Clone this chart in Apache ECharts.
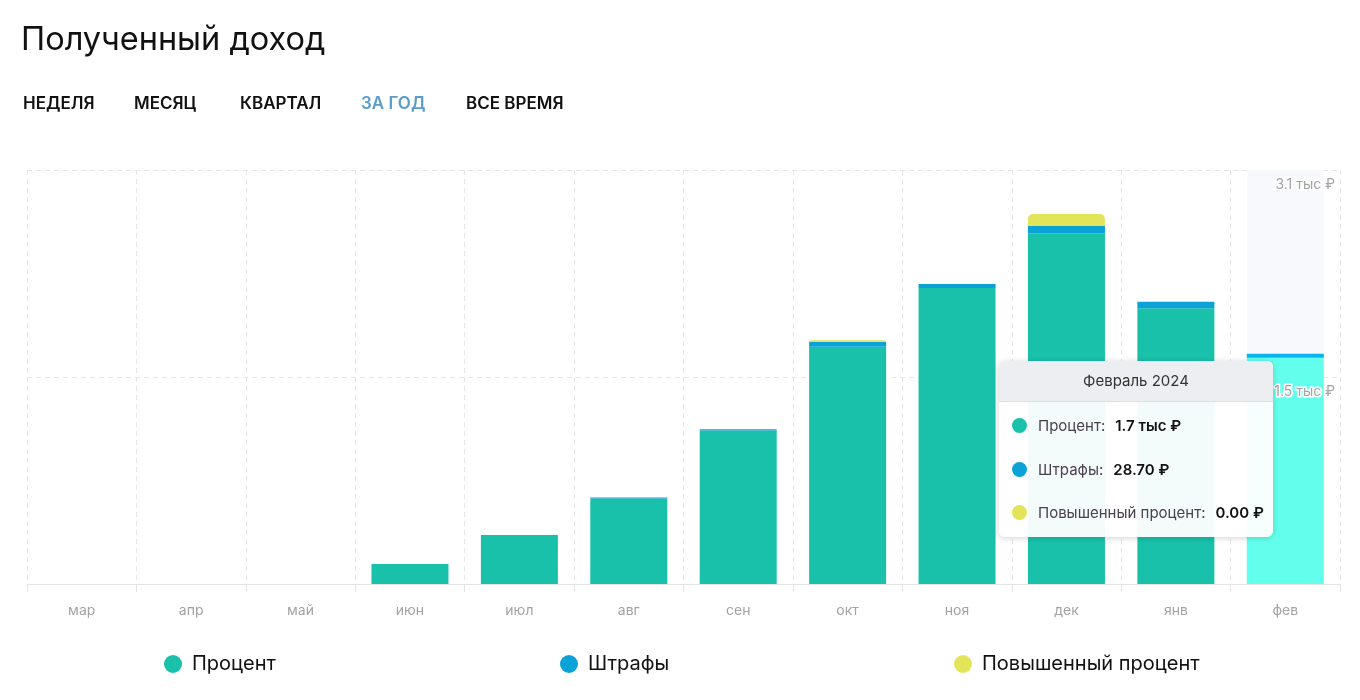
<!DOCTYPE html>
<html>
<head>
<meta charset="utf-8">
<style>
  html, body { margin: 0; padding: 0; background: #ffffff; }
  #chart { width: 1360px; height: 700px; }
</style>
<script src="https://cdn.jsdelivr.net/npm/echarts@6/dist/echarts.min.js"></script>
</head>
<body>
<div id="chart"></div>
<script>
// ---- data ----
const titleText = 'Полученный доход';
const tabs = ['НЕДЕЛЯ', 'МЕСЯЦ', 'КВАРТАЛ', 'ЗА ГОД', 'ВСЕ ВРЕМЯ'];
const activeTab = 3;
const categories = ['мар', 'апр', 'май', 'июн', 'июл', 'авг', 'сен', 'окт', 'ноя', 'дек', 'янв', 'фев'];
const monthTitles = ['Март 2023', 'Апрель 2023', 'Май 2023', 'Июнь 2023', 'Июль 2023', 'Август 2023',
  'Сентябрь 2023', 'Октябрь 2023', 'Ноябрь 2023', 'Декабрь 2023', 'Январь 2024', 'Февраль 2024'];
const seriesNames = ['Процент', 'Штрафы', 'Повышенный процент'];
const percentValues = [0, 0, 0, 150, 367, 640, 1150, 1777, 2216, 2626, 2064, 1695];
const fineValues = [0, 0, 0, 0, 0, 8, 8, 37, 30, 55, 50, 28.7];
const bonusValues = [0, 0, 0, 0, 0, 0, 0, 12, 0, 90, 0, 0];
const yMax = 3100;
const yInterval = 1550;
const yTickLabels = ['', '1.5 тыс ₽', '3.1 тыс ₽'];
const activeIndex = 11;

// ---- style ----
const colors = ['#19c1ab', '#0ba2d7', '#e2e55a'];
const activeColor = '#5af0d8';
const font = 'Inter, Roboto, "Noto Sans", sans-serif';
const tabX = [23, 134, 240, 361, 466];
const legendLeft = [164, 560, 954];

function fmtRub(v) {
  if (v >= 1000) return (Math.round(v / 100) / 10).toFixed(1) + ' тыс ₽';
  return v.toFixed(2) + ' ₽';
}

const chart = echarts.init(document.getElementById('chart'), null, { renderer: 'canvas' });

const barWidth = 77;
const percentData = percentValues.map((v, i) => i === activeIndex ? { value: v, itemStyle: { color: activeColor } } : v);
const bgData = categories.map((c, i) => i === activeIndex ? yMax : null);

const option = {
  animation: false,
  title: {
    text: titleText,
    left: 21, top: 24,
    padding: 0,
    textStyle: { fontFamily: font, fontSize: 32.5, fontWeight: 'normal', color: '#111' }
  },
  graphic: tabs.map((t, i) => ({
    type: 'text',
    x: tabX[i], y: 104,
    style: {
      text: t,
      fill: i === activeTab ? '#5b9dc9' : '#111',
      font: '600 17px ' + font,
      textVerticalAlign: 'middle'
    }
  })),
  legend: seriesNames.map((n, i) => ({
    data: [n],
    left: legendLeft[i], top: 654,
    padding: 0,
    icon: 'circle', itemWidth: 18, itemHeight: 18, itemGap: 10,
    textStyle: { fontFamily: font, fontSize: 20, color: '#111', padding: [0, 0, 0, 5] },
    selectedMode: false
  })),
  grid: { left: 27, right: 20, top: 170, bottom: 116 },
  tooltip: {
    trigger: 'axis',
    axisPointer: { type: 'none' },
    alwaysShowContent: true,
    transitionDuration: 0,
    padding: 0,
    borderWidth: 0,
    backgroundColor: 'rgba(255,255,255,0.95)',
    extraCssText: 'border-radius:6px;box-shadow:0 1px 6px rgba(0,0,0,0.18);overflow:hidden;',
    position: function () { return [999, 361]; },
    formatter: function (params) {
      const idx = params[0].dataIndex;
      const vals = [percentValues[idx], fineValues[idx], bonusValues[idx]];
      let html = '<div style="width:274px;font-family:' + font.replace(/"/g, "'") + ';">';
      html += '<div style="background:#eceef1;border-bottom:1px solid #dcdfe3;height:40px;line-height:40px;text-align:center;font-size:15px;color:#333;">' + monthTitles[idx] + '</div>';
      html += '<div style="padding:2px 0 2px 0;">';
      seriesNames.forEach((n, i) => {
        html += '<div style="height:43.5px;display:flex;align-items:center;padding-left:13px;">' +
          '<span style="display:inline-block;width:15px;height:15px;border-radius:50%;background:' + colors[i] + ';"></span>' +
          '<span style="margin-left:11px;font-size:15px;color:#4a4050;">' + n + ':</span>' +
          '<span style="margin-left:10px;font-size:15px;font-weight:600;color:#111;">' + fmtRub(vals[i]) + '</span>' +
          '</div>';
      });
      html += '</div></div>';
      return html;
    }
  },
  xAxis: {
    type: 'category',
    data: categories,
    boundaryGap: true,
    axisLine: { show: true, lineStyle: { color: '#e4e4e4', width: 1 } },
    axisTick: { show: true, length: 8, lineStyle: { color: '#e4e4e4' } },
    axisLabel: { color: '#a3a3a3', fontSize: 14, fontFamily: font, margin: 20 },
    splitLine: { show: true, lineStyle: { color: '#e6e6e6', type: [5, 4] } }
  },
  yAxis: [{
    type: 'value',
    position: 'right',
    min: 0, max: yMax, interval: yInterval,
    axisLine: { show: false }, axisTick: { show: false },
    axisLabel: { show: false },
    splitLine: { show: true, lineStyle: { color: '#e6e6e6', type: [5, 4] } }
  }, {
    type: 'value',
    position: 'right',
    min: 0, max: yMax, interval: yInterval,
    z: 10,
    axisLine: { show: false }, axisTick: { show: false },
    splitLine: { show: false },
    axisLabel: {
      inside: true, margin: 5, verticalAlign: 'top',
      padding: [8, 0, 0, 0],
      color: '#a3a3a3', fontSize: 14, fontFamily: font,
      textBorderColor: '#ffffff', textBorderWidth: 3,
      formatter: function (v) { return yTickLabels[Math.round(v / yInterval)] || ''; }
    }
  }],
  series: [
    {
      name: 'bg', type: 'bar', silent: true, barWidth: barWidth, barGap: '-100%',
      data: bgData, itemStyle: { color: '#f8f9fc' }, tooltip: { show: false }, z: 1
    },
    {
      name: seriesNames[0], type: 'bar', stack: 'total', barWidth: barWidth, barGap: '-100%',
      data: percentData, itemStyle: { color: colors[0] }
    },
    {
      name: seriesNames[1], type: 'bar', stack: 'total', barWidth: barWidth, barGap: '-100%',
      data: fineValues, itemStyle: { color: colors[1] }
    },
    {
      name: seriesNames[2], type: 'bar', stack: 'total', barWidth: barWidth, barGap: '-100%',
      data: bonusValues, itemStyle: { color: colors[2], borderRadius: [5, 5, 0, 0] }
    }
  ]
};

chart.setOption(option);
chart.dispatchAction({ type: 'showTip', seriesIndex: 1, dataIndex: activeIndex });
</script>
</body>
</html>
